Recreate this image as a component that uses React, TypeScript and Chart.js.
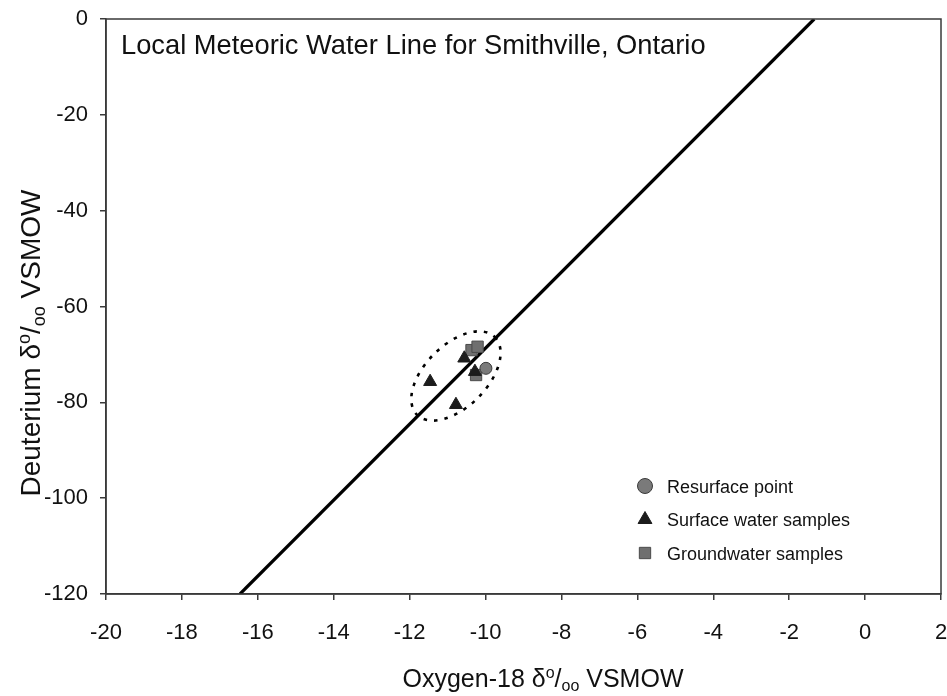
import React, { useEffect, useRef } from 'react';
import { Chart, registerables } from 'chart.js';

Chart.register(...registerables);

const FONT = '"Liberation Sans", Arial, Helvetica, sans-serif';

// ---- text ----
const chartTitle = 'Local Meteoric Water Line for Smithville, Ontario';
const xTitleParts = ['Oxygen-18 δ', 'o', '/', 'oo', ' VSMOW'];
const yTitleParts = ['Deuterium δ', 'o', '/', 'oo', ' VSMOW'];

// ---- axes ----
const xMin = -20;
const xMax = 2;
const xStep = 2;
const yMin = -120;
const yMax = 0;
const yStep = 20;

// ---- data ----
const lmwlX = [-16.47, -1.34];
const lmwlY = [-120, 0];

const resurfaceLabel = 'Resurface point';
const resurfaceX = [-9.99];
const resurfaceY = [-72.9];

const surfaceLabel = 'Surface water samples';
const surfaceX = [-11.46, -10.78, -10.56, -10.28];
const surfaceY = [-75.7, -80.5, -70.8, -73.6];

const groundLabel = 'Groundwater samples';
const groundX = [-10.37, -10.21, -10.25];
const groundY = [-69.1, -68.4, -74.3];

const ellipseCenterX = -10.78;
const ellipseCenterY = -74.5;

const toPts = (xs: number[], ys: number[]) => xs.map((x, i) => ({ x, y: ys[i] }));

function drawRich(
  ctx: CanvasRenderingContext2D,
  parts: { t: string; size: number; dy: number }[],
  cx: number,
  cy: number,
  rot: number
) {
  let total = 0;
  const widths = parts.map((p) => {
    ctx.font = `${p.size}px ${FONT}`;
    const w = ctx.measureText(p.t).width;
    total += w;
    return w;
  });
  ctx.save();
  ctx.translate(cx, cy);
  ctx.rotate(rot);
  ctx.textBaseline = 'alphabetic';
  ctx.textAlign = 'left';
  ctx.fillStyle = '#111';
  let x = -total / 2;
  parts.forEach((p, i) => {
    ctx.font = `${p.size}px ${FONT}`;
    ctx.fillText(p.t, x, p.dy);
    x += widths[i];
  });
  ctx.restore();
}

function drawShape(ctx: CanvasRenderingContext2D, kind: string, x: number, y: number, r: number, fill: string, stroke: string) {
  ctx.beginPath();
  if (kind === 'circle') {
    ctx.arc(x, y, r, 0, Math.PI * 2);
  } else if (kind === 'triangle') {
    ctx.moveTo(x, y - r);
    ctx.lineTo(x + r * Math.sin((2 * Math.PI) / 3), y - r * Math.cos((2 * Math.PI) / 3));
    ctx.lineTo(x + r * Math.sin((4 * Math.PI) / 3), y - r * Math.cos((4 * Math.PI) / 3));
    ctx.closePath();
  } else {
    const s = r * Math.SQRT1_2;
    ctx.rect(x - s, y - s, 2 * s, 2 * s);
  }
  ctx.fillStyle = fill;
  ctx.fill();
  ctx.lineWidth = 1;
  ctx.strokeStyle = stroke;
  ctx.stroke();
}

const decorPlugin = {
  id: 'decor',
  beforeDatasetsDraw(chart: any) {
    const { ctx, scales } = chart;
    ctx.save();
    ctx.beginPath();
    ctx.setLineDash([3.5, 7]);
    ctx.lineWidth = 2.6;
    ctx.strokeStyle = '#000';
    ctx.ellipse(
      scales.x.getPixelForValue(ellipseCenterX),
      scales.y.getPixelForValue(ellipseCenterY),
      55,
      31,
      -Math.PI / 4,
      0,
      Math.PI * 2
    );
    ctx.stroke();
    ctx.restore();
  },
  afterDraw(chart: any) {
    const { ctx, chartArea: a } = chart;
    ctx.save();
    // frame
    ctx.strokeStyle = '#3a3a3a';
    ctx.lineWidth = 1.5;
    ctx.strokeRect(a.left, a.top, a.right - a.left, a.bottom - a.top);

    // title inside plot
    ctx.fillStyle = '#111';
    ctx.font = `27.3px ${FONT}`;
    ctx.textBaseline = 'alphabetic';
    ctx.textAlign = 'left';
    ctx.fillText(chartTitle, a.left + 15, a.top + 35);

    // legend
    const lx = a.left + 539;
    const ly = a.top + 467;
    const gap = 33.5;
    chart.data.datasets.forEach((ds: any) => {
      if (!ds.legendShape) return;
      const cy = ly + ds.legendRow * gap;
      drawShape(ctx, ds.legendShape, lx, cy, ds.legendRadius, ds.backgroundColor, ds.borderColor);
      ctx.fillStyle = '#111';
      ctx.font = `18px ${FONT}`;
      ctx.textBaseline = 'alphabetic';
      ctx.textAlign = 'left';
      ctx.fillText(ds.label, lx + 22, cy + 6.5);
    });

    // axis titles
    const sub = (arr: string[], base: number, small: number, up: number, down: number) => [
      { t: arr[0], size: base, dy: 0 },
      { t: arr[1], size: small, dy: -up },
      { t: arr[2], size: base, dy: 0 },
      { t: arr[3], size: small, dy: down },
      { t: arr[4], size: base, dy: 0 },
    ];
    drawRich(ctx, sub(xTitleParts, 25, 16, 9, 4), 543, 687, 0);
    drawRich(ctx, sub(yTitleParts, 28, 18, 10, 5), 40, 343, -Math.PI / 2);
    ctx.restore();
  },
};

const zeroPad = (s: any) => {
  s.paddingTop = 0;
  s.paddingBottom = 0;
  s.paddingLeft = 0;
  s.paddingRight = 0;
};

export default function App() {
  const ref = useRef<HTMLCanvasElement | null>(null);
  useEffect(() => {
    if (!ref.current) return;
    const tickFont = { family: FONT, size: 22 };
    const chart = new Chart(ref.current, {
      type: 'scatter',
      data: {
        datasets: [
          {
            label: 'LMWL',
            data: toPts(lmwlX, lmwlY),
            showLine: true,
            borderColor: '#000',
            backgroundColor: '#000',
            borderWidth: 3.2,
            pointRadius: 0,
            order: 3,
          } as any,
          {
            label: groundLabel,
            data: toPts(groundX, groundY),
            pointStyle: 'rect',
            pointRadius: 8,
            backgroundColor: '#6f6f6f',
            borderColor: '#4a4a4a',
            borderWidth: 1,
            legendShape: 'rect',
            legendRadius: 8,
            legendRow: 2,
            order: 2,
          } as any,
          {
            label: surfaceLabel,
            data: toPts(surfaceX, surfaceY),
            pointStyle: 'triangle',
            pointRadius: 7.5,
            backgroundColor: '#1c1c1c',
            borderColor: '#1c1c1c',
            borderWidth: 1,
            legendShape: 'triangle',
            legendRadius: 8,
            legendRow: 1,
            order: 1,
          } as any,
          {
            label: resurfaceLabel,
            data: toPts(resurfaceX, resurfaceY),
            pointStyle: 'circle',
            pointRadius: 6,
            backgroundColor: '#7a7a7a',
            borderColor: '#3a3a3a',
            borderWidth: 1,
            legendShape: 'circle',
            legendRadius: 7.5,
            legendRow: 0,
            order: 0,
          } as any,
        ],
      },
      options: {
        responsive: false,
        animation: false,
        layout: { padding: { top: 19, left: 0, right: 3, bottom: 0 } },
        plugins: {
          legend: { display: false },
          tooltip: { enabled: false },
          title: { display: false },
        },
        scales: {
          x: {
            type: 'linear',
            min: xMin,
            max: xMax,
            afterFit: (s: any) => {
              s.height = 102;
              zeroPad(s);
            },
            ticks: { stepSize: xStep, font: tickFont, color: '#111', padding: 20, maxRotation: 0 },
            grid: { drawOnChartArea: false, drawTicks: true, tickLength: 6, color: '#3a3a3a', lineWidth: 1.5 },
            border: { display: true, color: '#3a3a3a', width: 1.5 },
          },
          y: {
            type: 'linear',
            min: yMin,
            max: yMax,
            afterFit: (s: any) => {
              s.width = 106;
              zeroPad(s);
            },
            ticks: { stepSize: yStep, font: tickFont, color: '#111', padding: 12 },
            grid: { drawOnChartArea: false, drawTicks: true, tickLength: 6, color: '#3a3a3a', lineWidth: 1.5 },
            border: { display: true, color: '#3a3a3a', width: 1.5 },
          },
        },
      } as any,
      plugins: [decorPlugin],
    });
    return () => chart.destroy();
  }, []);
  return (
    <div style={{ position: 'absolute', left: 0, top: 0, width: 947, height: 696, overflow: 'hidden', background: '#fff' }}>
      <canvas ref={ref} width={950} height={696} style={{ display: 'block' }} />
    </div>
  );
}
